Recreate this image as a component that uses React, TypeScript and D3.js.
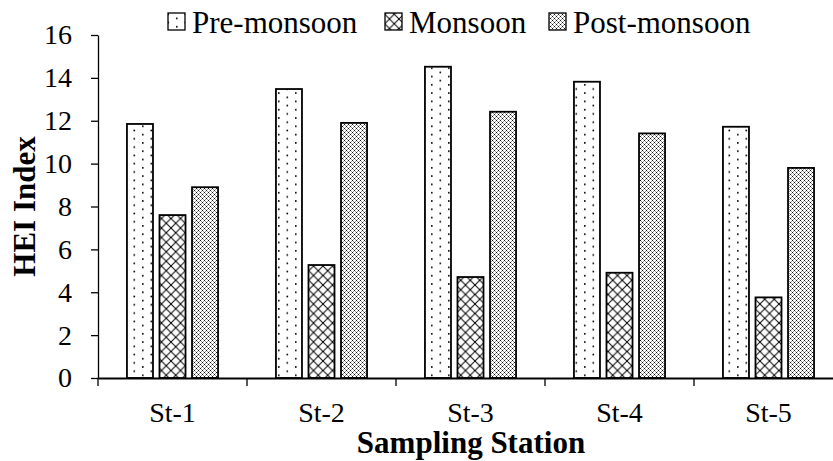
import { useEffect, useRef } from 'react'
import * as d3 from 'd3'

const stations = ['St-1', 'St-2', 'St-3', 'St-4', 'St-5']
const seasons = ['Pre-monsoon', 'Monsoon', 'Post-monsoon']
const preMonsoon = [11.85, 13.48, 14.52, 13.82, 11.72]
const monsoon = [7.6, 5.27, 4.71, 4.91, 3.76]
const postMonsoon = [8.9, 11.9, 12.42, 11.41, 9.8]
const yTicks = [0, 2, 4, 6, 8, 10, 12, 14, 16]

const patternIds = ['pat-dots', 'pat-bigx', 'pat-finex']

export default function App() {
  const svgRef = useRef<SVGSVGElement>(null)

  useEffect(() => {
    if (!svgRef.current) return
    const width = 833
    const height = 461
    const margin = { top: 35, right: -10, bottom: 83, left: 98 }

    const svg = d3.select(svgRef.current)
    svg.selectAll('*').remove()

    const font = 'Liberation Serif, Times New Roman, serif'

    // motifs de remplissage
    const defs = svg.append('defs')
    const dots = defs.append('pattern')
      .attr('id', 'pat-dots').attr('patternUnits', 'userSpaceOnUse')
      .attr('width', 17).attr('height', 8.3)
    dots.append('rect').attr('width', 17).attr('height', 8.3).attr('fill', 'white')
    dots.append('rect').attr('x', 6).attr('y', 1).attr('width', 1.6).attr('height', 1.6).attr('fill', 'black')
    dots.append('rect').attr('x', 14.5).attr('y', 5.2).attr('width', 1.6).attr('height', 1.6).attr('fill', 'black')

    const bigx = defs.append('pattern')
      .attr('id', 'pat-bigx').attr('patternUnits', 'userSpaceOnUse')
      .attr('width', 9.5).attr('height', 9.5)
    bigx.append('rect').attr('width', 9.5).attr('height', 9.5).attr('fill', 'white')
    bigx.append('path').attr('d', 'M0,0L9.5,9.5M9.5,0L0,9.5')
      .attr('stroke', 'black').attr('stroke-width', 1)

    const finex = defs.append('pattern')
      .attr('id', 'pat-finex').attr('patternUnits', 'userSpaceOnUse')
      .attr('width', 4).attr('height', 4)
    finex.append('rect').attr('width', 4).attr('height', 4).attr('fill', 'white')
    const finePix: [number, number, string][] = [
      [0, 0, '#111'], [2, 2, '#111'], [1, 1, '#999'], [3, 3, '#999'], [3, 1, '#999'], [1, 3, '#999'],
    ]
    finePix.forEach(([px, py, c]) => {
      finex.append('rect').attr('x', px).attr('y', py).attr('width', 1).attr('height', 1)
        .attr('fill', c).attr('shape-rendering', 'crispEdges')
    })

    const x0 = d3.scaleBand()
      .domain(stations)
      .range([margin.left, width - margin.right])
      .paddingInner(0).paddingOuter(0)

    const x1 = d3.scaleBand()
      .domain(seasons)
      .range([0, x0.bandwidth()])
      .paddingInner(0.2).paddingOuter(0.89)

    const y = d3.scaleLinear()
      .domain([0, 16])
      .range([height - margin.bottom, margin.top])

    const series = [preMonsoon, monsoon, postMonsoon]

    // barres
    series.forEach((values, si) => {
      svg.append('g').selectAll('rect')
        .data(values)
        .join('rect')
        .attr('x', (_, i) => (x0(stations[i]) ?? 0) + (x1(seasons[si]) ?? 0))
        .attr('y', d => y(d))
        .attr('width', x1.bandwidth())
        .attr('height', d => y(0) - y(d))
        .attr('fill', `url(#${patternIds[si]})`)
        .attr('stroke', 'black')
        .attr('stroke-width', 1.8)
    })

    // axe Y
    const yAxis = svg.append('g')
      .attr('transform', `translate(${margin.left},0)`)
      .call(d3.axisLeft(y).tickValues(yTicks).tickSize(7).tickPadding(19).tickSizeOuter(0))
    yAxis.attr('font-family', null)
    yAxis.select('.domain').attr('stroke', 'black').attr('stroke-width', 1.3)
    yAxis.selectAll('.tick line').attr('stroke', 'black').attr('stroke-width', 1.3)
    yAxis.selectAll('.tick text')
      .style('font-family', font).style('font-size', '28px').attr('fill', 'black')

    // axe X
    const xAxis = svg.append('g')
      .attr('transform', `translate(0,${y(0)})`)
      .call(d3.axisBottom(x0).tickSize(0).tickPadding(24).tickSizeOuter(0))
    xAxis.attr('font-family', null)
    xAxis.select('.domain').attr('stroke', 'black').attr('stroke-width', 1.8)
    xAxis.selectAll('.tick text')
      .style('font-family', font).style('font-size', '28px').attr('fill', 'black')

    // graduations entre stations
    svg.append('g').selectAll('line')
      .data(stations)
      .join('line')
      .attr('x1', d => x0(d) ?? 0)
      .attr('x2', d => x0(d) ?? 0)
      .attr('y1', y(0))
      .attr('y2', y(0) + 8)
      .attr('stroke', 'black')
      .attr('stroke-width', 1.3)

    // titres des axes
    svg.append('text')
      .attr('transform', `translate(35,${(y(0) + y(16)) / 2}) rotate(-90)`)
      .attr('text-anchor', 'middle')
      .style('font-family', font).style('font-size', '31px').style('font-weight', 'bold')
      .text('HEI Index')

    svg.append('text')
      .attr('x', 471).attr('y', 453)
      .attr('text-anchor', 'middle')
      .style('font-family', font).style('font-size', '31px').style('font-weight', 'bold')
      .text('Sampling Station')

    // légende
    const legendX = [168, 385, 549]
    const legend = svg.append('g')
    seasons.forEach((s, i) => {
      legend.append('rect')
        .attr('x', legendX[i]).attr('y', 13)
        .attr('width', 17).attr('height', 17)
        .attr('fill', `url(#${patternIds[i]})`)
        .attr('stroke', 'black').attr('stroke-width', 1.3)
      legend.append('text')
        .attr('x', legendX[i] + 24).attr('y', 33)
        .style('font-family', font).style('font-size', '31px')
        .text(s)
    })
  }, [])

  return (
    <svg
      ref={svgRef}
      width={833}
      height={461}
      style={{ position: 'absolute', left: 0, top: 0, background: 'white' }}
    />
  )
}
